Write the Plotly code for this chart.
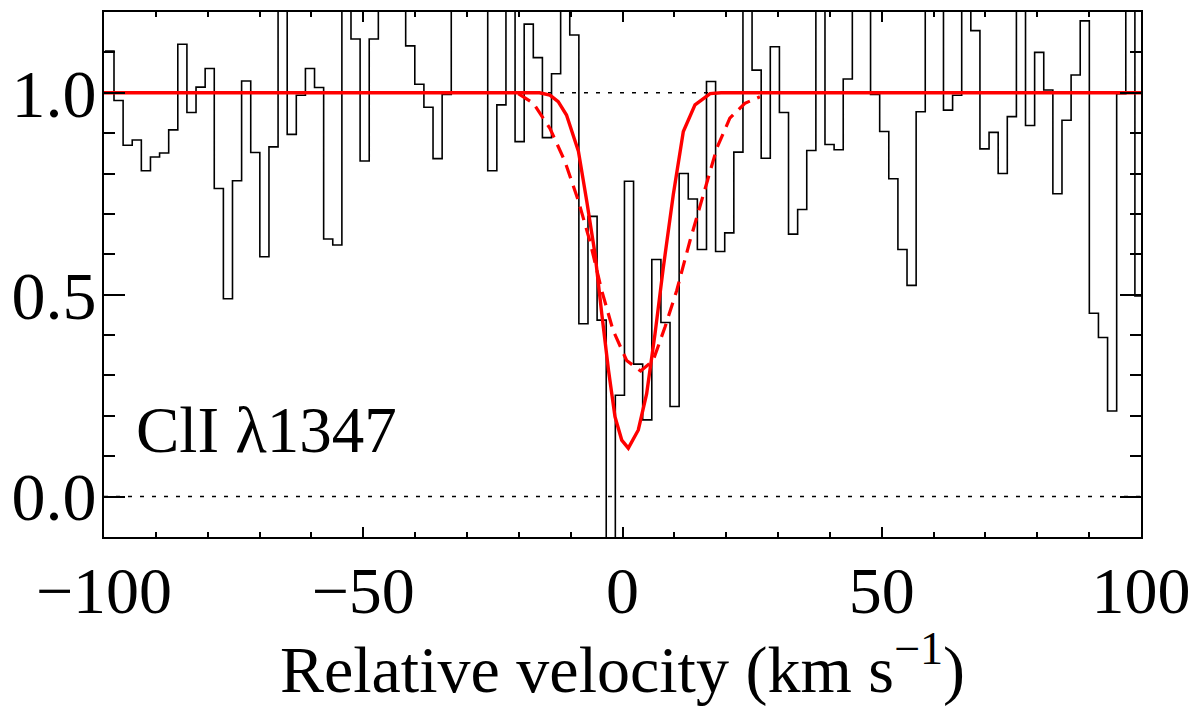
import plotly.graph_objects as go

# ---- data ----
# observed spectrum: regular velocity grid (bin left edge of first bin, bin width, km/s)
bin_start = -99.83
bin_width = 1.758
flux = [
    1.103, 0.981, 0.870, 0.883, 0.807, 0.841, 0.851, 0.908, 1.120, 0.951,
    1.014, 1.060, 0.763, 0.490, 0.782, 1.029, 0.852, 0.594, 0.866, 1.300,
    0.897, 0.994, 1.060, 1.013, 0.638, 0.623, 1.300, 1.133, 0.831, 1.133,
    1.300, 1.300, 1.300, 1.116, 1.021, 0.964, 0.837, 0.996, 1.300, 1.300,
    1.300, 1.300, 0.807, 0.970, 1.300, 0.879, 1.170, 1.087, 0.889, 1.047,
    1.300, 1.143, 0.428, 0.694, 0.437, -0.120, 0.251, 0.781, 0.328, 0.190,
    0.587, 0.431, 0.223, 0.800, 0.737, 0.612, 1.028, 0.607, 0.653, 0.853,
    1.300, 1.056, 0.838, 1.114, 0.951, 0.650, 0.711, 0.857, 1.300, 0.872,
    0.859, 1.034, 1.300, 1.300, 0.996, 0.904, 0.787, 0.612, 0.523, 0.953,
    1.300, 1.300, 0.957, 0.994, 1.300, 1.154, 0.861, 0.902, 0.800, 0.941,
    1.300, 0.919, 1.100, 1.007, 0.750, 0.932, 1.044, 1.178, 0.454, 0.394,
    0.212, 0.998, 1.300, 0.497,
]

# solid red model profile
model_v = [-100.0, -16.0, -14.0, -12.4, -10.8, -8.5, -6.9, -5.3, -4.0, -2.7,
           -1.45, -0.15, 1.12, 3.05, 4.66, 6.27, 7.87, 9.8, 11.73, 13.98,
           16.9, 19.0, 100.0]
model_f = [1.0, 1.0, 0.994, 0.978, 0.945, 0.855, 0.732, 0.601, 0.453, 0.313,
           0.198, 0.140, 0.120, 0.165, 0.255, 0.403, 0.567, 0.748, 0.904, 0.970,
           0.998, 1.0, 1.0]

# dashed red profile
alt_v = [-20.1, -17.2, -14.0, -11.1, -8.5, -6.3, -4.0, -1.8, 0.8, 3.5,
         5.9, 8.2, 10.45, 13.0, 15.6, 18.2, 20.7, 23.6, 26.5]
alt_f = [0.998, 0.974, 0.912, 0.830, 0.732, 0.633, 0.510, 0.411, 0.337, 0.311,
         0.337, 0.420, 0.510, 0.633, 0.748, 0.863, 0.937, 0.974, 0.990]

x_ticks = [-100, -50, 0, 50, 100]
y_ticks = [0.0, 0.5, 1.0]
label = "ClI λ1347"

# ---- build step outline from the bins ----
edges = [bin_start + bin_width * i for i in range(len(flux) + 1)]
step_y = flux + [flux[-1]]

FONT = "Liberation Serif"
fig = go.Figure()

for lvl in (0.0, 1.0):
    fig.add_trace(go.Scatter(x=[-100, 100], y=[lvl, lvl], mode="lines",
                             line=dict(color="black", width=1.5, dash="4px,8px"),
                             hoverinfo="skip", showlegend=False))

fig.add_trace(go.Scatter(x=edges, y=step_y, mode="lines", line_shape="hv",
                         line=dict(color="black", width=1.6), showlegend=False))

fig.add_trace(go.Scatter(x=alt_v, y=alt_f, mode="lines",
                         line=dict(color="#ff0000", width=3.2, dash="14px,8px"),
                         showlegend=False))
fig.add_trace(go.Scatter(x=model_v, y=model_f, mode="lines",
                         line=dict(color="#ff0000", width=3.4), showlegend=False))

fig.add_annotation(x=-94.3, y=0.165, xref="x", yref="y", text=label,
                   showarrow=False, xanchor="left", yanchor="middle",
                   font=dict(family=FONT, size=65, color="black"))

# page body has an 8px margin, so the figure is sized/offset to compensate
fig.update_layout(
    width=1192, height=699,
    margin=dict(l=96, r=59, t=4, b=170),
    paper_bgcolor="white", plot_bgcolor="white",
    font=dict(family=FONT, size=66, color="black"),
    showlegend=False,
    xaxis=dict(
        range=[-100, 100], tickvals=x_ticks, automargin=False,
        ticks="inside", ticklen=10, tickwidth=2, tickcolor="black",
        showline=True, linewidth=2, linecolor="black", mirror="ticks",
        showgrid=False, zeroline=False,
        minor=dict(dtick=10, ticks="inside", ticklen=5, tickwidth=2,
                   tickcolor="black", showgrid=False),
        ticklabelstandoff=-5,
        title=dict(text="Relative velocity (km s<sup>−1</sup>)",
                   font=dict(family=FONT, size=66), standoff=0),
        tickfont=dict(family=FONT, size=66),
    ),
    yaxis=dict(
        range=[-0.1, 1.2], tickvals=y_ticks, tickformat=".1f", automargin=False,
        ticks="inside", ticklen=21, tickwidth=2, tickcolor="black",
        showline=True, linewidth=2, linecolor="black", mirror="ticks",
        showgrid=False, zeroline=False,
        minor=dict(dtick=0.1, ticks="inside", ticklen=11, tickwidth=2,
                   tickcolor="black", showgrid=False),
        ticklabelstandoff=-8,
        tickfont=dict(family=FONT, size=68),
    ),
)

fig.write_html("out.html")
